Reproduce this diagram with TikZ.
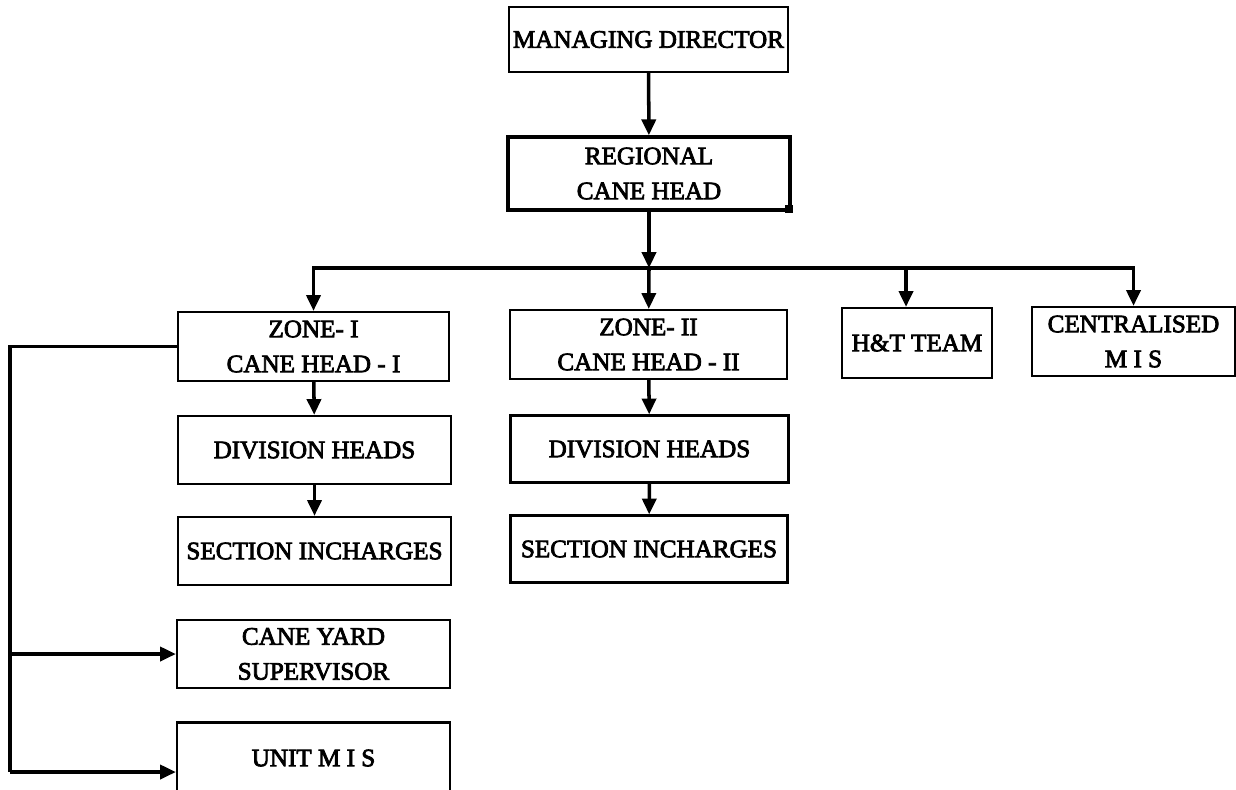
\documentclass[tikz,border=0pt]{standalone}
\usepackage{fontspec}
\setmainfont{Liberation Serif}[FakeBold=3]
\usetikzlibrary{arrows.meta}

\begin{document}
\begin{tikzpicture}[x=0.02cm, y=-0.02cm, every node/.style={draw, line width=1.3pt, align=center, inner sep=0pt, font=\fontsize{14.3}{19.9}\selectfont}, arr/.style={line width=2pt, -{Triangle[length=9pt,width=8pt]}}, wire/.style={line width=2pt}]
  \useasboundingbox (0,0) rectangle (1236,789);
  \node[minimum width=5.58cm, minimum height=1.30cm] (md) at (648.5, 39.5) {MANAGING DIRECTOR};
  \node[minimum width=5.64cm, minimum height=1.46cm, line width=2pt] (rch) at (649, 173.5) {REGIONAL\\CANE HEAD};
  \node[minimum width=5.42cm, minimum height=1.38cm] (z1) at (313.5, 346.5) {ZONE- I\\CANE HEAD - I};
  \node[minimum width=5.54cm, minimum height=1.38cm] (z2) at (648.5, 344.5) {ZONE- II\\CANE HEAD - II};
  \node[minimum width=3.00cm, minimum height=1.40cm] (ht) at (917, 343) {H\&T TEAM};
  \node[minimum width=4.06cm, minimum height=1.38cm] (cmis) at (1133.5, 341.5) {CENTRALISED\\M I S};
  \node[minimum width=5.46cm, minimum height=1.36cm] (d1) at (314.5, 450) {DIVISION HEADS};
  \node[minimum width=5.56cm, minimum height=1.34cm] (d2) at (649.5, 449) {DIVISION HEADS};
  \node[minimum width=5.46cm, minimum height=1.36cm] (s1) at (314.5, 551) {SECTION INCHARGES};
  \node[minimum width=5.54cm, minimum height=1.34cm] (s2) at (649, 549) {SECTION INCHARGES};
  \node[minimum width=5.46cm, minimum height=1.36cm] (cys) at (313.5, 654) {CANE YARD\\SUPERVISOR};
  \node[minimum width=5.46cm, minimum height=1.42cm] (unit) at (313.5, 758) {UNIT M I S};
  \coordinate (bus) at (649, 268);
  \coordinate (bht) at (906, 268);
  \coordinate (lft) at (10, 772);
  \fill ([shift={(-7,-7)}]rch.south east) rectangle ([shift={(1,1)}]rch.south east);
  \draw[arr] (md) -- (rch);
  \draw[arr] (rch) -- (bus);
  \draw[wire] (bus -| z1.north) -- (bus -| cmis.north);
  \draw[arr] (bus) -- (z2);
  \draw[arr] (bus) -| (z1);
  \draw[arr] (bus) -| (cmis);
  \draw[arr] (bht) -- (bht |- ht.north);
  \draw[arr] (z1) -- (d1);
  \draw[arr] (d1) -- (s1);
  \draw[arr] (z2) -- (d2);
  \draw[arr] (d2) -- (s2);
  \draw[wire] (z1.west) -- (z1.west -| lft) -- (lft);
  \draw[arr] (lft |- cys.west) -- (cys.west);
  \draw[arr] (lft) -- (lft -| unit.west);
\end{tikzpicture}
\end{document}
